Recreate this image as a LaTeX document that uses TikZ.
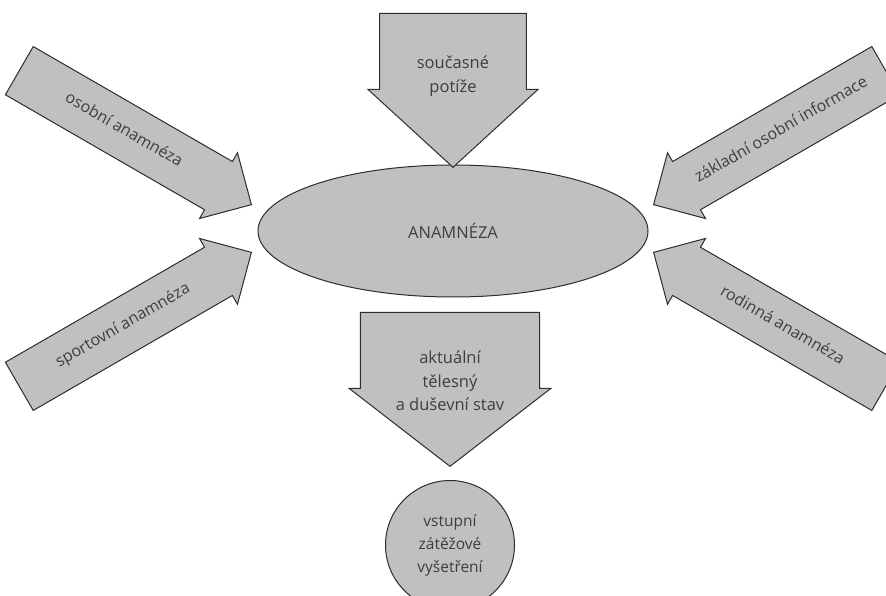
\documentclass[tikz,border=0pt]{standalone}
\usepackage{fontspec}
\setmainfont{Open Sans}
\usepackage{tikz}
\usetikzlibrary{shapes.geometric, shapes.arrows, positioning}
\definecolor{shapegray}{RGB}{192,192,194}
\definecolor{edgegray}{RGB}{45,45,45}
\definecolor{inkgray}{RGB}{62,62,62}
\tikzset{
	hub/.style={
		ellipse,
		minimum width=390pt,
		minimum height=132pt,
		inner sep=0pt,
		draw=edgegray,
		fill=shapegray,
		line width=1pt,
		text=inkgray,
		font=\fontsize{16.5}{20}\selectfont
	},
	result/.style={
		circle,
		minimum size=129pt,
		inner sep=0pt,
		align=center,
		draw=edgegray,
		fill=shapegray,
		line width=1pt,
		text=inkgray,
		font=\fontsize{15.5}{23}\selectfont
	},
	sidearrow/.style={
		single arrow,
		single arrow tip angle=90,
		minimum height=268pt,
		minimum width=76pt,
		text height=11pt,
		text depth=3.5pt,
		inner xsep=2pt,
		inner ysep=11.75pt,
		draw=edgegray,
		fill=shapegray,
		line width=1pt,
		text=inkgray,
		font=\fontsize{16}{20}\selectfont
	},
	downarrow/.style={
		single arrow,
		minimum height=154pt,
		inner xsep=0pt,
		rotate=-90,
		draw=edgegray,
		fill=shapegray,
		line width=1pt
	},
	arrowtext/.style={
		align=center,
		text=inkgray,
		font=\fontsize{16.5}{23.5}\selectfont
	}
}

\begin{document}
\begin{tikzpicture}[x=1pt, y=-1pt]
	\useasboundingbox (0,0) rectangle (886,596);
	\node (anamneza) [hub] at (453,231) {ANAMNÉZA};
	
	\node (potize) [downarrow, inner ysep=44pt, minimum width=170pt, single arrow tip angle=95, anchor=tip] at (453,168) {};
	\node (potizetext) [arrowtext] at (453,76) {současné\\potíže};
	
	\node (osobni) [sidearrow, rotate=-30, anchor=tip] at (252,205) {osobní anamnéza};
	\node (sportovni) [sidearrow, rotate=30, anchor=tip] at (252,252) {sportovní anamnéza};
	\node (zakladni) [sidearrow, rotate=30, shape border rotate=180, anchor=tip] at (653,205) {základní osobní informace};
	\node (rodinna) [sidearrow, rotate=-30, shape border rotate=180, anchor=tip] at (653,252) {rodinná anamnéza};
	
	\node (stav) [downarrow, inner ysep=55.5pt, minimum width=202pt, single arrow tip angle=104.6, anchor=tip] at (450,467) {};
	\node (stavtext) [arrowtext] at (450,381) {aktuální\\tělesný\\a duševní stav};
	
	\node (vysetreni) [result] at (450,545) {vstupní\\zátěžové\\vyšetření};
\end{tikzpicture}
\end{document}
